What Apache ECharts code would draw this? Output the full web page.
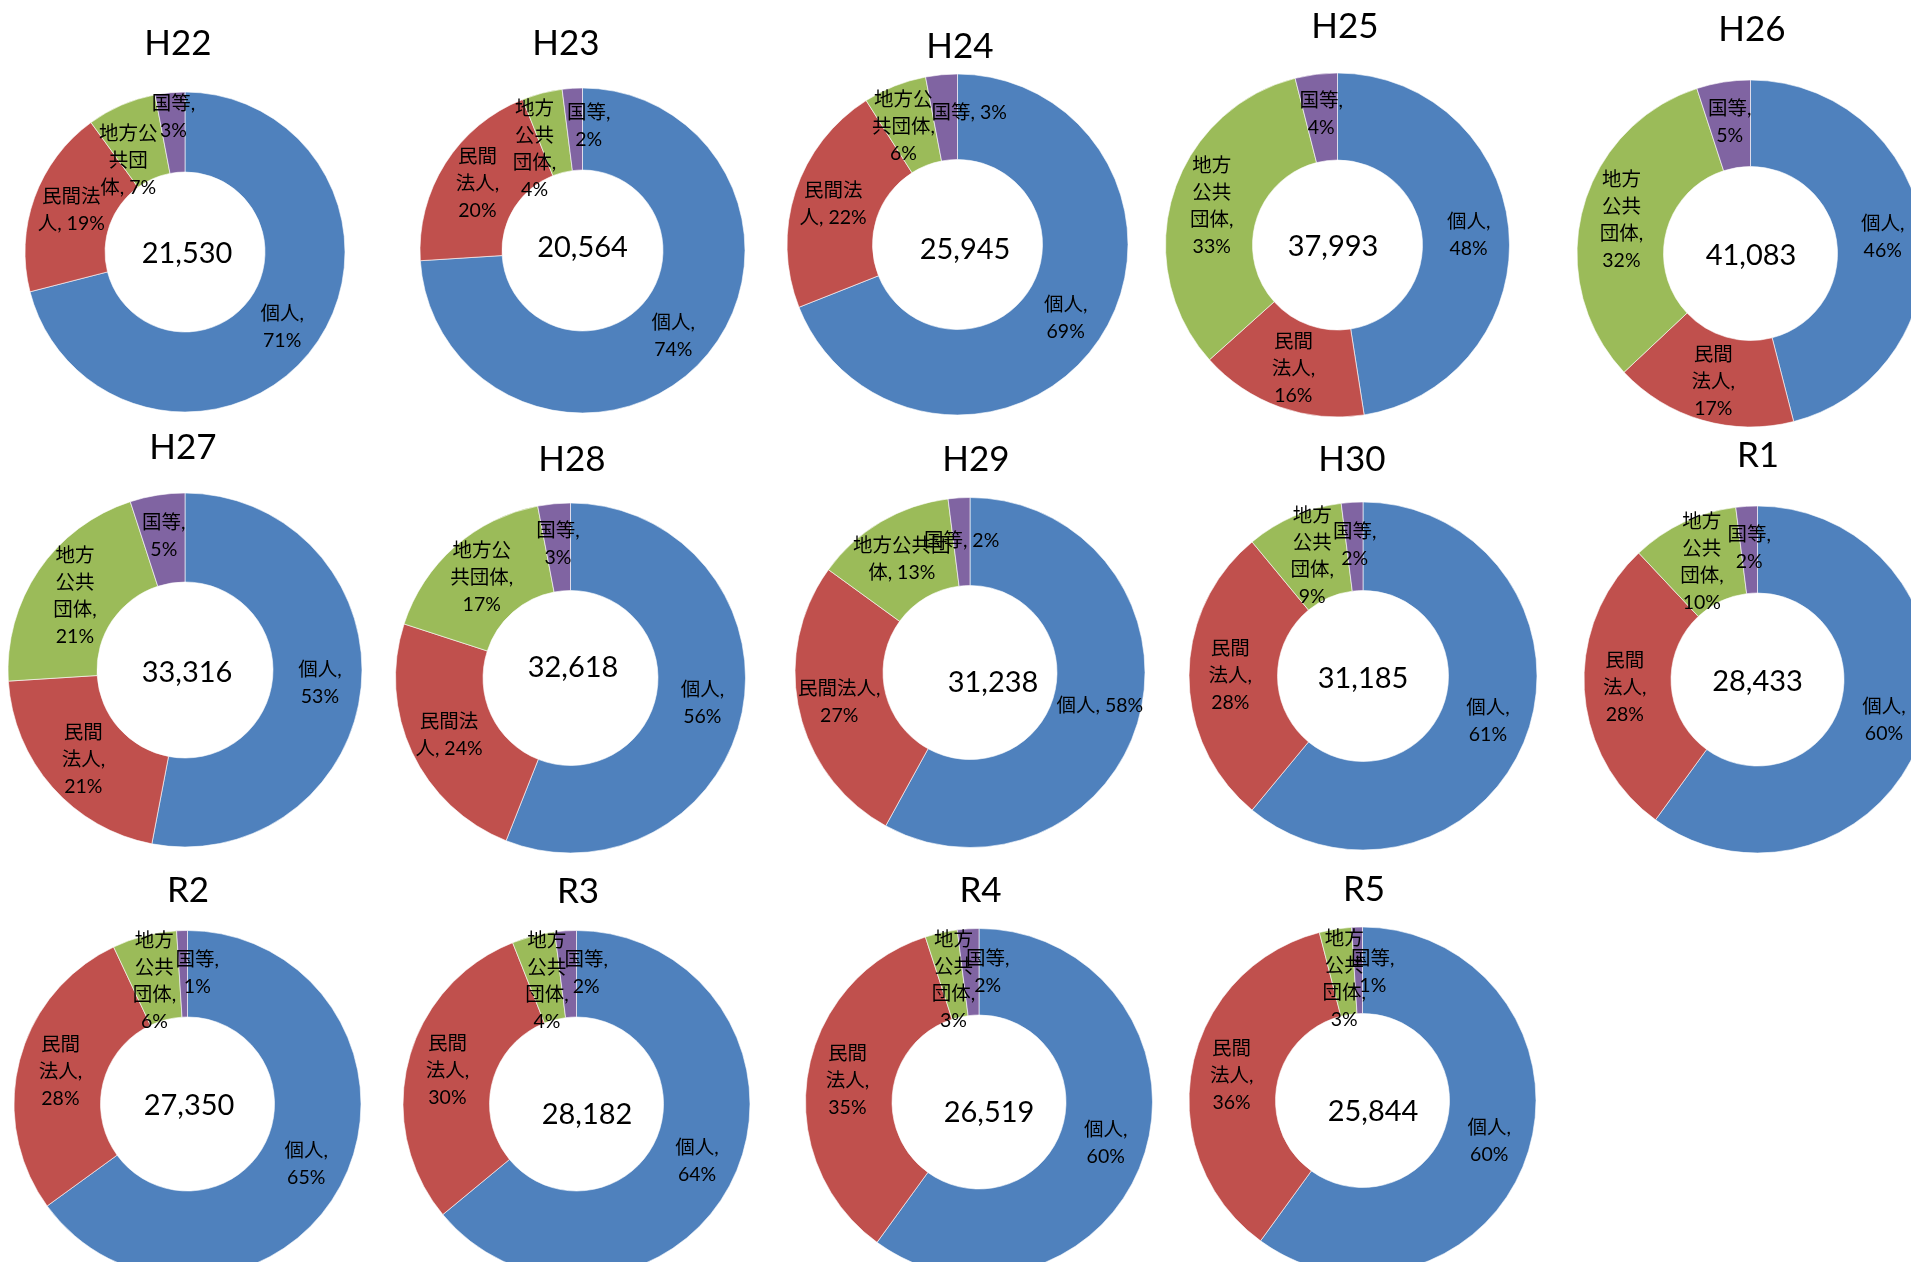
<!DOCTYPE html>
<html>
<head>
<meta charset="utf-8">
<script src="https://cdn.jsdelivr.net/npm/echarts@6/dist/echarts.min.js"></script>
<style>
html,body{margin:0;padding:0;background:#fff;}
#c{width:1911px;height:1262px;}
</style>
</head>
<body>
<div id="c"></div>
<script>
// ---- data ----
const years = ['H22','H23','H24','H25','H26','H27','H28','H29','H30','R1','R2','R3','R4','R5'];
const categories = ['個人','民間法人','地方公共団体','国等'];
const kojin  = [71,74,69,48,46,53,56,58,61,60,65,64,60,60];
const minkan = [19,20,22,16,17,21,24,27,28,28,28,30,35,36];
const chiho  = [7,4,6,33,32,21,17,13,9,10,6,4,3,3];
const kuni   = [3,2,3,4,5,5,3,2,2,2,1,2,2,1];
const totals = [21530,20564,25945,37993,41083,33316,32618,31238,31185,28433,27350,28182,26519,25844];

// label wrapping as shown ('/' = line break, '#' = percentage)
const W3 = ['個人,/#','民間/法人,/#','地方/公共/団体,/#','国等,/#'];
const labelWraps = [
  ['個人,/#','民間法/人, #','地方公/共団/体, #','国等,/#'],
  W3,
  ['個人,/#','民間法/人, #','地方公/共団体,/#','国等, #'],
  W3, W3, W3,
  ['個人,/#','民間法/人, #','地方公/共団体,/#','国等,/#'],
  ['個人, #','民間法人,/#','地方公共団/体, #','国等, #'],
  W3, W3, W3, W3, W3, W3
];

// ---- layout (px): center x, center y, outer r, inner r, title x, title y, total text dx, dy ----
const layout = [
  [185,252,160,80,178,44,2,2],
  [582.5,250.5,162.5,80.5,566,44,0,-3],
  [957.5,244.5,170.5,85,960,47,7.5,5.5],
  [1337.5,245,172,85,1345,27,-4.5,2],
  [1750.5,253.5,173.5,87,1752,30,0.5,2.5],
  [185,670,177,88,183,448,2,3],
  [570.5,678,175,87.5,572,460,2.5,-10],
  [970,672.5,175,87,976,460,23,10.5],
  [1363,676,174,85.5,1352,460,0,3],
  [1757.5,679.5,173.5,86.5,1758,456,0,2],
  [187.5,1104,173.5,87,188,891,1.5,2],
  [576.5,1104,173.5,87,578,892,10.5,11],
  [979,1102,173.5,87,980.5,891,10,11],
  [1362.5,1100.5,173.5,87,1364,890,10.5,11.5]
];
// label nudges (px) per chart, per category, like the original's manual label placement
const Z = [0, 0];
const labelOffsets = [
  [Z, [2, 0], [-8, 22], [0, -12]],
  [Z, Z, [-17, 19], [14, 0]],
  [Z, Z, [-6, 4], [24, -2]],
  [Z, Z, Z, Z],
  [Z, Z, Z, Z],
  [[0, 0], Z, [2, 2], Z],
  [Z, Z, Z, Z],
  [Z, Z, [0, 2], [0, 2]],
  [Z, Z, [2, 2], [0, 2]],
  [Z, Z, [1, 3], [0, 1]],
  [Z, [2, 1], [0, 6], [14, 2.5]],
  [Z, Z, [3.5, 6], [18, 2.5]],
  [Z, Z, [3.5, 8.5], [17, 3.5]],
  [Z, Z, [2.5, 10], [14.5, 5]]
];

const FONT = 'Lato, "Noto Sans CJK JP", sans-serif';
const seriesVals = [kojin, minkan, chiho, kuni];

const series = years.map((y, i) => {
  const L = layout[i];
  const wraps = labelWraps[i];
  return {
    type: 'pie',
    name: y,
    center: [L[0], L[1]],
    radius: [L[3], L[2]],
    startAngle: 90,
    clockwise: true,
    silent: true,
    animation: false,
    avoidLabelOverlap: false,
    minShowLabelAngle: 0,
    labelLayout: { hideOverlap: false, moveOverlap: null },
    itemStyle: { borderColor: '#ffffff', borderWidth: 0.6 },
    label: {
      show: true,
      position: 'inside',
      color: '#000',
      fontSize: 19.5,
      lineHeight: 27,
      fontFamily: FONT,
      formatter: p => wraps[p.dataIndex].replace('#', p.value + '%').replace(/\//g, '\n')
    },
    labelLine: { show: false },
    emphasis: { disabled: true },
    data: categories.map((n, j) => ({
      name: n,
      value: seriesVals[j][i],
      label: { offset: labelOffsets[i][j] }
    }))
  };
});

const graphics = [];
years.forEach((y, i) => {
  const L = layout[i];
  graphics.push({
    type: 'text', x: L[4], y: L[5], silent: true,
    style: { text: y, fill: '#000', font: '35px ' + FONT, textAlign: 'center', textVerticalAlign: 'middle', align: 'center', verticalAlign: 'middle' }
  });
  graphics.push({
    type: 'text', x: L[0] + L[6], y: L[1] + L[7], silent: true,
    style: { text: totals[i].toLocaleString('en-US'), fill: '#000', font: '29px ' + FONT, textAlign: 'center', textVerticalAlign: 'middle', align: 'center', verticalAlign: 'middle' }
  });
});

const chart = echarts.init(document.getElementById('c'), null, { renderer: 'canvas' });
chart.setOption({
  backgroundColor: '#ffffff',
  animation: false,
  color: ['#4F81BD', '#C0504D', '#9BBB59', '#8064A2'],
  series: series,
  graphic: graphics
});
</script>
</body>
</html>
